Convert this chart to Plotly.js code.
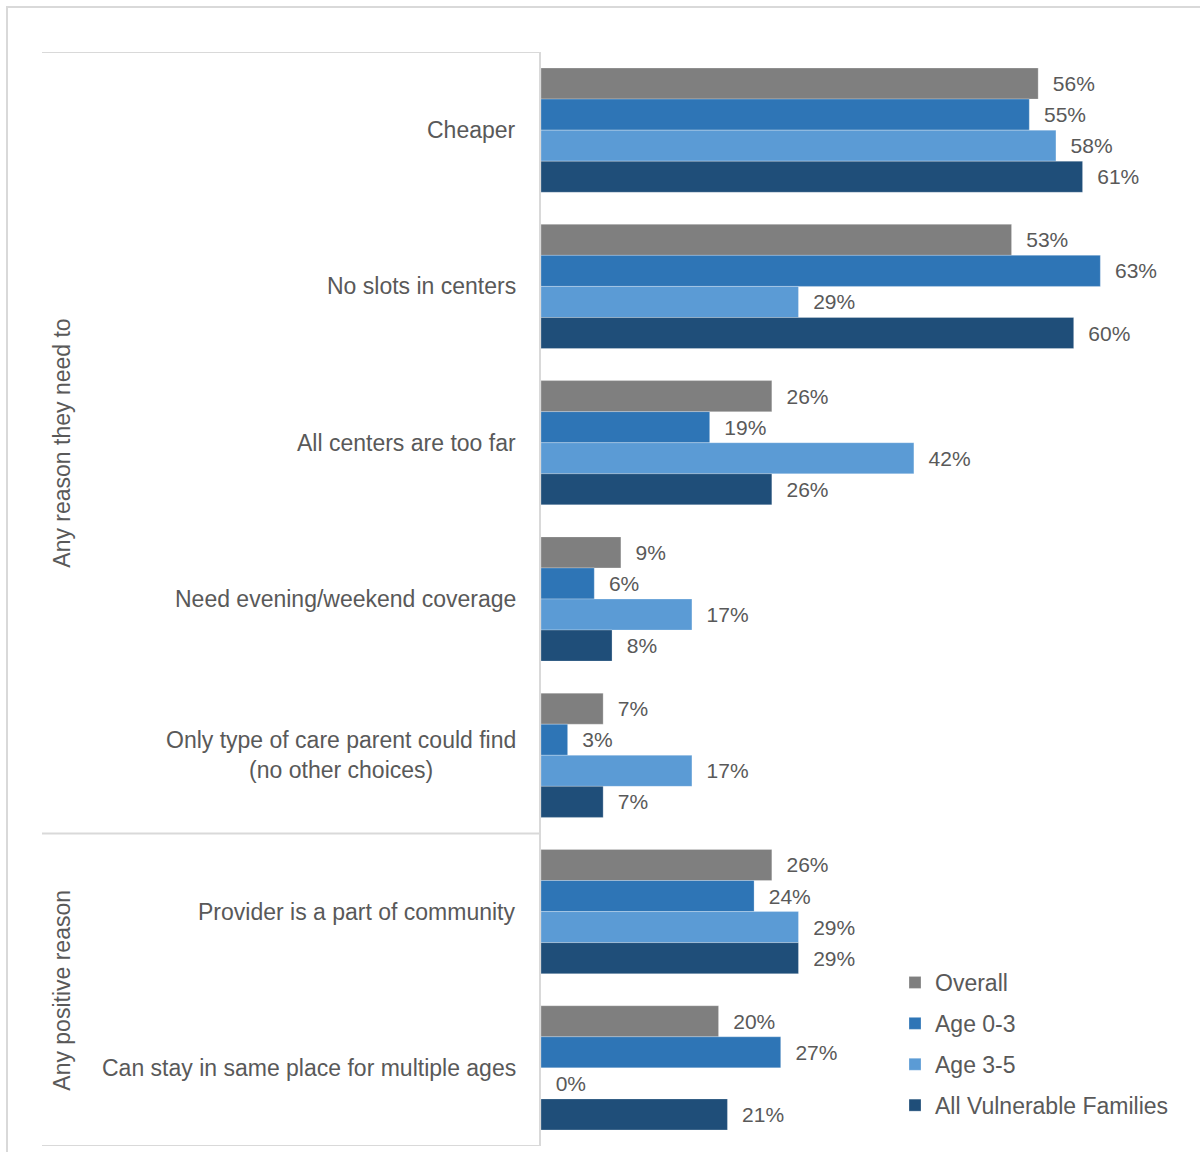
<!DOCTYPE html>
<html>
<head>
<meta charset="utf-8">
<script src="https://cdn.plot.ly/plotly-3.0.1.min.js"></script>
<style>
  html, body { margin: 0; padding: 0; background: #ffffff; }
  #chart { width: 1200px; height: 1152px; }
</style>
</head>
<body>
<div id="chart"></div>
<script>
// ---- data ----
const categories = [
  "Cheaper",
  "No slots in centers",
  "All centers are too far",
  "Need evening/weekend coverage",
  "Only type of care parent could find<br>(no other choices)",
  "Provider is a part of community",
  "Can stay in same place for multiple ages"
];
const seriesNames = ["Overall", "Age 0-3", "Age 3-5", "All Vulnerable Families"];
const overall = [56, 53, 26, 9, 7, 26, 20];
const age03   = [55, 63, 19, 6, 3, 24, 27];
const age35   = [58, 29, 42, 17, 17, 29, 0];
const allVuln = [61, 60, 26, 8, 7, 29, 21];
const groupLabels = ["Any reason they need to", "Any positive reason"];

// ---- styling ----
const FONT = "Liberation Sans, Arial, sans-serif";
const TXT = "#595959";
const GRID = "#d9d9d9";
const colors = ["#7f7f7f", "#2e75b6", "#5b9bd5", "#1f4e79"];
const seriesValues = [overall, age03, age35, allVuln];

const traces = seriesValues.map((vals, i) => ({
  type: "bar",
  orientation: "h",
  name: seriesNames[i],
  legendgroup: "g" + i,
  y: categories,
  x: vals,
  marker: { color: colors[i], line: { color: "rgba(255,255,255,0.5)", width: 0.5 } },
  texttemplate: "\u00a0\u00a0%{x}%",
  textposition: "outside",
  constraintext: "none",
  cliponaxis: false,
  textfont: { family: FONT, size: 21, color: TXT },
  hoverinfo: "skip"
}));

const L = 541, R = 1190, T = 52, B = 1146;
const pw = R - L, ph = B - T;
const px = (p) => (p - L) / pw;
const py = (p) => (B - p) / ph;

const annotations = categories.map(c => ({
  xref: "paper", yref: "y", x: 0, y: c,
  xanchor: "right", yanchor: "middle", xshift: -23,
  align: "center", showarrow: false, text: c,
  font: { family: FONT, size: 23, color: TXT }
}));
annotations.push({
  xref: "paper", yref: "y", x: px(62), y: 2,
  xanchor: "center", yanchor: "middle", textangle: -90, showarrow: false,
  text: groupLabels[0], font: { family: FONT, size: 23, color: TXT }
});
annotations.push({
  xref: "paper", yref: "y", x: px(62), y: 5.5,
  xanchor: "center", yanchor: "middle", textangle: -90, showarrow: false,
  text: groupLabels[1], font: { family: FONT, size: 23, color: TXT }
});

const shapes = [
  { type: "rect", xref: "paper", yref: "paper", x0: px(7), x1: px(1220), y0: py(1170), y1: py(7),
    line: { color: GRID, width: 2 }, fillcolor: "rgba(0,0,0,0)", layer: "below" },
  ...[-0.5, 4.5, 6.5].map(yv => ({
    type: "line", xref: "paper", yref: "y", x0: px(42), x1: 0, y0: yv, y1: yv,
    line: { color: GRID, width: 2 }
  }))
];

const layout = {
  width: 1200, height: 1152,
  margin: { l: L, r: 1200 - R, t: T, b: 1152 - B, pad: 0, autoexpand: false },
  paper_bgcolor: "#ffffff", plot_bgcolor: "#ffffff",
  barmode: "group", bargap: 0.205, bargroupgap: 0,
  font: { family: FONT, color: TXT, size: 23 },
  xaxis: { range: [0, 73.1], showticklabels: false, showgrid: false, zeroline: false, showline: false, fixedrange: true },
  yaxis: { type: "category", range: [6.5, -0.5], showticklabels: false, showgrid: false, zeroline: false,
           showline: true, linecolor: GRID, linewidth: 2, ticks: "", fixedrange: true },
  showlegend: true,
  legend: {
    x: px(895), y: py(961), xanchor: "left", yanchor: "top",
    traceorder: "grouped", tracegroupgap: 8, bgcolor: "rgba(0,0,0,0)",
    font: { family: FONT, size: 23, color: TXT }
  },
  annotations: annotations,
  shapes: shapes
};

Plotly.newPlot("chart", traces, layout, { displayModeBar: false, staticPlot: true });
</script>
</body>
</html>
